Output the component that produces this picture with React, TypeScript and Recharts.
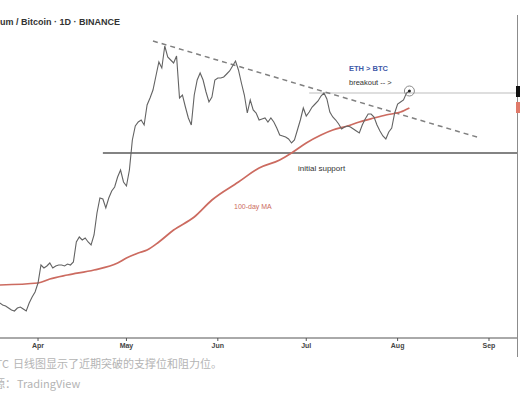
// ETH/BTC daily chart with 100-day MA, trendline and breakout levels.
import { ComposedChart, Line, XAxis, YAxis, ReferenceLine, ReferenceDot } from "recharts";

// days counted from Apr 1
const days = [
  -13, -12, -11, -10, -9, -8, -7, -6, -5, -4, -3, -2, -1, 0, 1, 2, 3, 4, 5, 6, 7, 8, 9, 10, 11, 12,
  13, 14, 15, 16, 17, 18, 19, 20, 21, 22, 23, 24, 25, 26, 27, 28, 29, 30, 31, 32, 33, 34, 35, 36, 37,
  38, 39, 40, 41, 42, 43, 44, 45, 46, 47, 48, 49, 50, 51, 52, 53, 54, 55, 56, 57, 58, 59, 60, 61, 62,
  63, 64, 65, 66, 67, 68, 69, 70, 71, 72, 73, 74, 75, 76, 77, 78, 79, 80, 81, 82, 83, 84, 85, 86, 87,
  88, 89, 90, 91, 92, 93, 94, 95, 96, 97, 98, 99, 100, 101, 102, 103, 104, 105, 106, 107, 108, 109,
  110, 111, 112, 113, 114, 115, 116, 117, 118, 119, 120, 121, 122, 123, 124, 125, 126,
];
const ethBtc = [
  0.0270, 0.0266, 0.0264, 0.0260, 0.0256, 0.0254, 0.0260, 0.0262, 0.0258, 0.0254, 0.0270, 0.0282,
  0.0292, 0.0310, 0.0346, 0.0340, 0.0344, 0.0350, 0.0340, 0.0344, 0.0346, 0.0346, 0.0344, 0.0348,
  0.0346, 0.0352, 0.0392, 0.0402, 0.0396, 0.0400, 0.0392, 0.0386, 0.0406, 0.0450, 0.0480, 0.0478,
  0.0460, 0.0480, 0.0494, 0.0502, 0.0522, 0.0536, 0.0512, 0.0504, 0.0536, 0.0596, 0.0624, 0.0632,
  0.0636, 0.0626, 0.0666, 0.0680, 0.0696, 0.0724, 0.0752, 0.0740, 0.0784, 0.0762, 0.0756, 0.0750,
  0.0764, 0.0680, 0.0686, 0.0662, 0.0640, 0.0626, 0.0686, 0.0716, 0.0730, 0.0716, 0.0692, 0.0672,
  0.0682, 0.0716, 0.0720, 0.0720, 0.0722, 0.0728, 0.0734, 0.0744, 0.0754, 0.0736, 0.0710, 0.0686,
  0.0650, 0.0676, 0.0656, 0.0650, 0.0636, 0.0638, 0.0640, 0.0632, 0.0640, 0.0632, 0.0620, 0.0606,
  0.0604, 0.0602, 0.0598, 0.0590, 0.0596, 0.0616, 0.0636, 0.0660, 0.0644, 0.0652, 0.0662, 0.0668,
  0.0674, 0.0684, 0.0690, 0.0678, 0.0652, 0.0642, 0.0636, 0.0628, 0.0618, 0.0622, 0.0624, 0.0622,
  0.0618, 0.0614, 0.0610, 0.0626, 0.0638, 0.0648, 0.0648, 0.0642, 0.0626, 0.0614, 0.0604, 0.0598,
  0.0612, 0.0620, 0.0650, 0.0668, 0.0672, 0.0676, 0.0690, 0.0694,
];

const maDays = [-13, 0, 4, 10, 19, 27, 30, 34, 37, 41, 46, 53, 59, 68, 75, 82, 86, 91, 96, 100, 105, 109, 114, 118, 123, 126];
const ma100 = [
  0.0306, 0.0310, 0.0318, 0.0326, 0.0336, 0.0350, 0.0360, 0.0370, 0.0376, 0.0392, 0.0416, 0.0442,
  0.0476, 0.0512, 0.0540, 0.0556, 0.0570, 0.0590, 0.0606, 0.0616, 0.0624, 0.0632, 0.0640, 0.0646,
  0.0652, 0.0660,
];

const monthTicks = [0, 30, 61, 91, 122, 153];
const monthLabels = ["Apr", "May", "Jun", "Jul", "Aug", "Sep"];
const priceTicks = [0.0836, 0.0772, 0.0636, 0.06, 0.0562, 0.0522, 0.0482, 0.0442, 0.0402, 0.0362, 0.0322, 0.0284, 0.0246, 0.0208];

const trendStart = { x: 39, y: 0.0794 };
const trendEnd = { x: 150, y: 0.06 };
const supportLevel = 0.057;
const supportFrom = 22;
const breakoutLevel = 0.069;
const breakoutFrom = 92;
const xMin = -12.9;
const xMax = 162.5;

const table = (() => {
  const rows = new Map<number, { day: number; price?: number; ma?: number }>();
  days.forEach((d, i) => rows.set(d, { day: d, price: ethBtc[i] }));
  maDays.forEach((d, i) => {
    const r = rows.get(d) ?? { day: d };
    r.ma = ma100[i];
    rows.set(d, r);
  });
  return [...rows.values()].sort((a, b) => a.day - b.day);
})();

const txt: React.CSSProperties = { position: "absolute", whiteSpace: "nowrap", fontFamily: "'Liberation Sans', Arial, sans-serif" };
const cap: React.CSSProperties = { ...txt, fontFamily: "'Noto Sans CJK SC', 'Noto Sans', sans-serif", fontSize: 11, color: "#b4b4b4", lineHeight: "14px" };

export default function App() {
  const last = table[table.length - 1];
  return (
    <div style={{ position: "absolute", left: 0, top: 0, width: 520, height: 400, background: "#fff", overflow: "hidden" }}>
      <ComposedChart width={520} height={358} data={table} margin={{ top: 0, right: 0, bottom: 0, left: 0 }}>
        <XAxis
          dataKey="day"
          type="number"
          domain={[xMin, xMax]}
          allowDataOverflow
          ticks={monthTicks}
          tickFormatter={(v) => monthLabels[monthTicks.indexOf(v)] ?? ""}
          height={20}
          tickSize={3}
          tickMargin={2}
          stroke="#555"
          tick={{ fontSize: 7, fontWeight: 700, fill: "#444", fontFamily: "'Liberation Sans', Arial, sans-serif" }}
        />
        <YAxis
          orientation="right"
          type="number"
          domain={[0.02, 0.0876]}
          allowDataOverflow
          ticks={priceTicks}
          width={3}
          tickSize={2}
          tick={false}
          axisLine={false}
          tickLine={{ stroke: "#777" }}
        />
        <ReferenceLine segment={[{ x: supportFrom, y: supportLevel }, { x: xMax, y: supportLevel }]} stroke="#5a5a5a" strokeWidth={1.5} />
        <ReferenceLine segment={[{ x: breakoutFrom, y: breakoutLevel }, { x: xMax, y: breakoutLevel }]} stroke="#bdbdbd" strokeWidth={1} />
        <ReferenceLine segment={[trendStart, trendEnd]} stroke="#808080" strokeWidth={1.5} strokeDasharray="5 4" />
        <Line dataKey="ma" type="monotone" stroke="#cc6b60" strokeWidth={1.7} dot={false} connectNulls isAnimationActive={false} />
        <Line dataKey="price" type="linear" stroke="#636363" strokeWidth={1.1} dot={false} connectNulls isAnimationActive={false} />
        <ReferenceDot x={last.day} y={last.price} r={5} fill="none" stroke="#8a8a8a" strokeWidth={1} />
        <ReferenceDot x={last.day} y={last.price} r={1.5} fill="#222" stroke="none" />
      </ComposedChart>

      {/* price scale rail and cropped last-value badges */}
      <div style={{ position: "absolute", left: 517, top: 15, width: 1, height: 342, background: "#8c8c8c" }} />
      <div style={{ position: "absolute", left: 516, top: 86, width: 4, height: 11, background: "#111" }} />
      <div style={{ position: "absolute", left: 516, top: 102, width: 4, height: 11, background: "#e07a6a" }} />

      <div style={{ ...txt, left: 0, top: 17, fontSize: 9, fontWeight: 600, color: "#333" }}>um / Bitcoin · 1D · BINANCE</div>

      <div style={{ ...txt, left: 349, top: 64, fontSize: 7.5, fontWeight: 700, color: "#3f5aa8" }}>ETH &gt; BTC</div>
      <div style={{ ...txt, left: 349, top: 78, fontSize: 7.5, color: "#333" }}>breakout -- &gt;</div>
      <div style={{ ...txt, left: 298, top: 164, fontSize: 8, color: "#333" }}>initial support</div>
      <div style={{ ...txt, left: 234, top: 203, fontSize: 7, color: "#cc6b60" }}>100-day MA</div>

      <div style={{ ...cap, right: 511, top: 356 }}>ETH/BTC</div>
      <div style={{ ...cap, left: 13, top: 356 }}>日线图显示了近期突破的支撑位和阻力位。</div>
      <div style={{ ...cap, right: 504, top: 376 }}>来源：</div>
      <div style={{ ...cap, left: 17, top: 376 }}>TradingView</div>
    </div>
  );
}
